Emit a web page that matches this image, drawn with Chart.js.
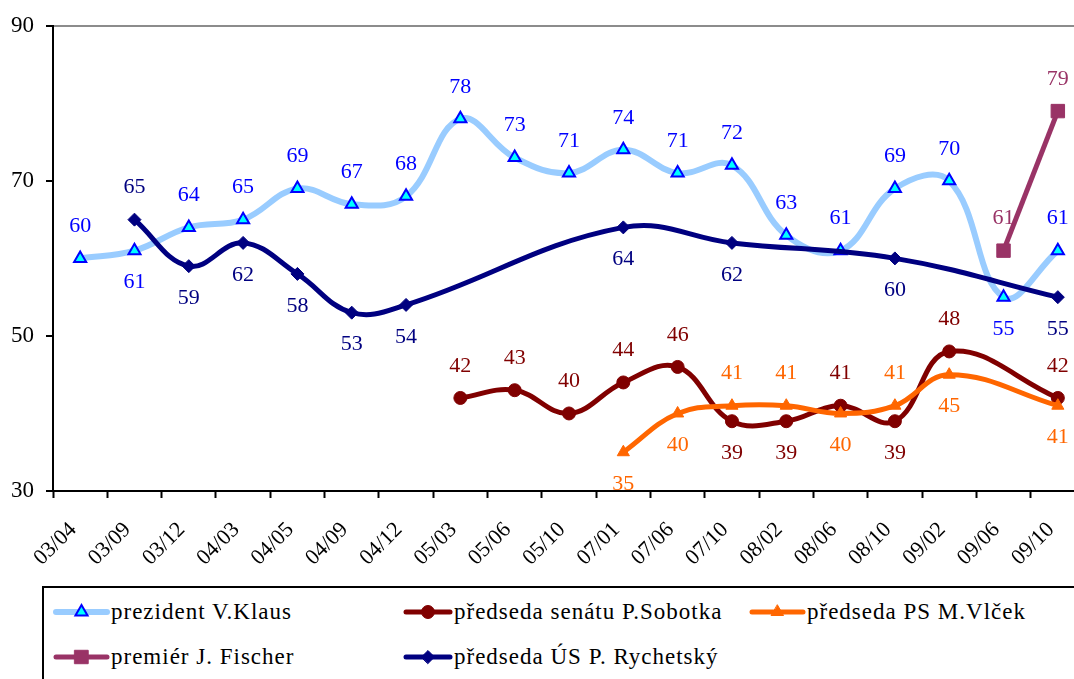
<!DOCTYPE html>
<html>
<head>
<meta charset="utf-8">
<title>Důvěra ústavním činitelům</title>
<script src="https://cdn.jsdelivr.net/npm/chart.js@4.4.0/dist/chart.umd.min.js"></script>
<style>
    body {
        margin: 0;
        background: #fff;
        overflow: hidden;
    }

    #wrap {
        position: relative;
        width: 1074px;
        height: 679px;
        overflow: hidden;
    }

    #myChart {
        position: absolute;
        left: 0;
        top: 0;
    }

    #legend {
        position: absolute;
        left: 42px;
        top: 586px;
        width: 1100px;
        height: 120px;
        border: 2px solid #000;
        box-sizing: border-box;
        font-family: "Liberation Serif", "Times New Roman", serif;
        font-size: 23px;
        letter-spacing: 1px;
        color: #000;
    }

    .item {
        position: absolute;
        height: 30px;
        line-height: 30px;
        white-space: nowrap;
    }

    .item canvas {
        position: absolute;
        top: 5px;
    }
</style>
</head>
<body>
<div id="wrap">
    <canvas id="myChart" width="1100" height="586"></canvas>
    <div id="legend"></div>
</div>
<script>
// data for chart
const months = ['03/04', '03/09', '03/12', '04/03', '04/05', '04/09', '04/12', '05/03', '05/06', '05/10',
    '07/01', '07/06', '07/10', '08/02', '08/06', '08/10', '09/02', '09/06', '09/10'];

const klaus = [60, 61, 64, 65, 69, 67, 68, 78, 73, 71, 74, 71, 72, 63, 61, 69, 70, 55, 61];
const sobotka = [null, null, null, null, null, null, null, 42, 43, 40, 44, 46, 39, 39, 41, 39, 48, null, 42];
const vlcek = [null, null, null, null, null, null, null, null, null, null, 35, 40, 41, 41, 40, 41, 45, null, 41];
const fischer = [null, null, null, null, null, null, null, null, null, null, null, null, null, null, null, null, null, 61, 79];
const rychetsky = [null, 65, 59, 62, 58, 53, 54, null, null, null, 64, null, 62, null, null, 60, null, null, 55];

const seriesNames = ['prezident V.Klaus', 'předseda senátu P.Sobotka', 'předseda PS M.Vlček',
    'premiér J. Fischer', 'předseda ÚS P. Rychetský'];

const yTicks = [30, 50, 70, 90];

// where the value label sits: a = above the point, b = below
const klausPos = ['a', 'b', 'a', 'a', 'a', 'a', 'a', 'a', 'a', 'a', 'a', 'a', 'a', 'a', 'a', 'a', 'a', 'b', 'a'];
const sobotkaPos = ['a', 'a', 'a', 'a', 'a', 'a', 'a', 'a', 'a', 'a', 'a', 'a', 'b', 'b', 'a', 'b', 'a', 'a', 'a'];
const vlcekPos = ['a', 'a', 'a', 'a', 'a', 'a', 'a', 'a', 'a', 'a', 'b', 'b', 'a', 'a', 'b', 'a', 'b', 'a', 'b'];
const fischerPos = ['a', 'a', 'a', 'a', 'a', 'a', 'a', 'a', 'a', 'a', 'a', 'a', 'a', 'a', 'a', 'a', 'a', 'a', 'a'];
const rychetskyPos = ['a', 'a', 'b', 'b', 'b', 'b', 'b', 'b', 'b', 'b', 'b', 'b', 'b', 'b', 'b', 'b', 'b', 'b', 'b'];

const serif = '"Liberation Serif", "Times New Roman", serif';

// value labels above / below the points
const valueLabels = {
    id: 'valueLabels',
    afterDatasetsDraw(chart) {
        const ctx = chart.ctx;
        ctx.save();
        ctx.font = '22px ' + serif;
        ctx.textAlign = 'center';
        ctx.textBaseline = 'middle';
        chart.data.datasets.forEach(function(ds, di) {
            const meta = chart.getDatasetMeta(di);
            ctx.fillStyle = ds.labelColor;
            meta.data.forEach(function(pt, i) {
                const v = ds.data[i];
                if (v === null) return;
                const dy = ds.labelPos[i] == 'b' ? 32 : -32;
                ctx.fillText(String(v), pt.x, pt.y + dy);
            });
        });
        ctx.restore();
    }
};

const data = {
    labels: months,
    datasets: [{
            label: seriesNames[0],
            data: klaus,
            borderColor: '#99CCFF',
            borderWidth: 6,
            pointStyle: 'triangle',
            pointRadius: 7,
            pointBorderWidth: 2,
            pointBackgroundColor: '#00FFFF',
            pointBorderColor: '#0000FF',
            tension: 0.4,
            labelColor: '#0000FF',
            labelPos: klausPos,
            order: 5
        },
        {
            label: seriesNames[1],
            data: sobotka,
            borderColor: '#800000',
            borderWidth: 5,
            pointStyle: 'circle',
            pointRadius: 6.5,
            pointBorderWidth: 1,
            pointBackgroundColor: '#800000',
            pointBorderColor: '#800000',
            tension: 0.4,
            spanGaps: true,
            labelColor: '#800000',
            labelPos: sobotkaPos,
            order: 4
        },
        {
            label: seriesNames[2],
            data: vlcek,
            borderColor: '#FF6600',
            borderWidth: 5,
            pointStyle: 'triangle',
            pointRadius: 7,
            pointBorderWidth: 1,
            pointBackgroundColor: '#FF6600',
            pointBorderColor: '#FF6600',
            tension: 0.4,
            spanGaps: true,
            labelColor: '#FF6600',
            labelPos: vlcekPos,
            order: 3
        },
        {
            label: seriesNames[3],
            data: fischer,
            borderColor: '#993366',
            borderWidth: 5,
            pointStyle: 'rect',
            pointRadius: 9.5,
            pointBorderWidth: 1,
            pointBackgroundColor: '#993366',
            pointBorderColor: '#993366',
            tension: 0,
            labelColor: '#993366',
            labelPos: fischerPos,
            order: 2
        },
        {
            label: seriesNames[4],
            data: rychetsky,
            borderColor: '#000080',
            borderWidth: 5,
            pointStyle: 'rectRot',
            pointRadius: 6.5,
            pointBorderWidth: 1,
            pointBackgroundColor: '#000080',
            pointBorderColor: '#000080',
            tension: 0.4,
            spanGaps: true,
            labelColor: '#000080',
            labelPos: rychetskyPos,
            order: 1
        }
    ]
};

const config = {
    type: 'line',
    data: data,
    plugins: [valueLabels],
    options: {
        responsive: false,
        animation: false,
        layout: {
            padding: { top: 23, right: 15, left: 0, bottom: 0 }
        },
        plugins: {
            legend: { display: false },
            title: { display: false },
            tooltip: { enabled: false }
        },
        scales: {
            x: {
                offset: true,
                afterFit: function(scale) { scale.height = 95; },
                border: { color: '#000', width: 2 },
                grid: {
                    offset: true,
                    color: 'rgba(0,0,0,0)',
                    tickColor: '#000',
                    tickLength: 7,
                    tickWidth: 2
                },
                ticks: {
                    color: '#000',
                    minRotation: 45,
                    maxRotation: 45,
                    autoSkip: false,
                    padding: 19,
                    labelOffset: -7,
                    font: { family: serif, size: 22 }
                }
            },
            y: {
                min: 30,
                max: 90,
                afterFit: function(scale) { scale.width = 53; },
                afterBuildTicks: function(scale) {
                    scale.ticks = yTicks.map(function(v) { return { value: v }; });
                },
                border: { color: '#000', width: 2 },
                grid: {
                    color: function(c) { return c.tick && c.tick.value == 90 ? '#8C8C8C' : 'rgba(0,0,0,0)'; },
                    lineWidth: 2,
                    tickColor: '#000',
                    tickLength: 7,
                    tickWidth: 2
                },
                ticks: {
                    color: '#000',
                    padding: 12,
                    font: { family: serif, size: 23 }
                }
            }
        }
    }
};

const myChart = new Chart(document.getElementById('myChart'), config);

// legend laid out like the original: three columns, two rows
const legendSlots = [
    { col: 0, row: 0 }, { col: 1, row: 0 }, { col: 2, row: 0 }, { col: 0, row: 1 }, { col: 1, row: 1 }
];
const sampleLeft = [53, 403, 749];
const sampleWidth = [57, 50, 57];
const rowTop = [597, 642];
const legendBox = document.getElementById('legend');

data.datasets.forEach(function(ds, i) {
    const slot = legendSlots[i];
    const item = document.createElement('div');
    item.className = 'item';
    item.style.left = (sampleLeft[slot.col] - 44) + 'px';
    item.style.top = (rowTop[slot.row] - 588) + 'px';
    item.style.paddingLeft = (sampleWidth[slot.col] + 1) + 'px';

    const c = document.createElement('canvas');
    c.width = sampleWidth[slot.col];
    c.height = 20;
    c.style.left = '0px';
    const g = c.getContext('2d');
    g.strokeStyle = ds.borderColor;
    g.lineWidth = ds.borderWidth;
    g.lineCap = 'round';
    g.beginPath();
    g.moveTo(3, 10);
    g.lineTo(c.width - 3, 10);
    g.stroke();
    g.fillStyle = ds.pointBackgroundColor;
    g.strokeStyle = ds.pointBorderColor;
    g.lineWidth = ds.pointBorderWidth;
    Chart.helpers.drawPoint(g, {
        pointStyle: ds.pointStyle,
        radius: ds.pointRadius,
        borderWidth: ds.pointBorderWidth,
        rotation: 0
    }, c.width / 2, 10);

    item.appendChild(c);
    item.appendChild(document.createTextNode(ds.label));
    legendBox.appendChild(item);
});
</script>
</body>
</html>
